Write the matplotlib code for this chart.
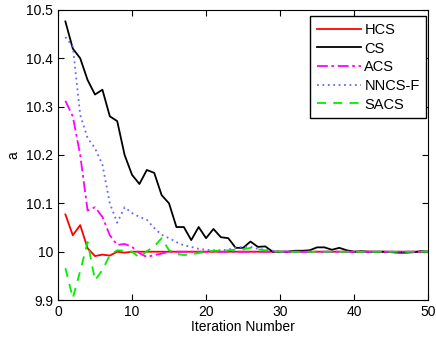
import matplotlib
matplotlib.use("Agg")
import matplotlib.pyplot as plt
import numpy as np

plt.rcParams['font.family'] = ['Liberation Sans', 'DejaVu Sans']

iterations = list(range(1, 51))

hcs = [10.077, 10.034, 10.055, 10.007, 9.991, 9.994, 9.992, 10.0, 9.998, 10.0] + [10.0] * 40

cs = [10.476, 10.42, 10.40, 10.355, 10.325, 10.335, 10.28, 10.27, 10.20, 10.159,
      10.14, 10.169, 10.163, 10.117, 10.10, 10.051, 10.051, 10.024, 10.051, 10.028,
      10.047, 10.03, 10.028, 10.008, 10.008, 10.021, 10.010, 10.011, 10.0, 10.0,
      10.0, 10.002, 10.002, 10.003, 10.009, 10.009, 10.004, 10.008, 10.003, 10.0,
      10.001, 10.0, 10.0, 10.0, 9.999, 9.998, 9.998, 9.999, 10.001, 10.0]

acs = [10.312, 10.28, 10.20, 10.085, 10.092, 10.072, 10.034, 10.014, 10.016, 10.01,
       9.997, 9.989, 9.993, 9.996, 10.0] + [10.0] * 35

nncs_f = [10.444, 10.424, 10.283, 10.235, 10.214, 10.18, 10.10, 10.06, 10.092, 10.08,
          10.072, 10.066, 10.049, 10.035, 10.028, 10.02, 10.013, 10.01, 10.006, 10.004,
          10.003, 10.003, 10.004, 10.009, 10.01, 10.01, 10.006, 10.004, 10.002, 10.001] + [10.0] * 20

sacs = [9.966, 9.904, 9.96, 10.02, 9.941, 9.962, 9.993, 10.003, 10.002, 10.0,
        9.988, 10.001, 10.011, 10.028, 10.003, 9.996, 9.993, 9.995, 9.997, 10.0,
        10.002, 10.002, 10.003, 10.004, 10.005, 10.008, 10.005, 10.003, 10.001, 10.0] + [10.0] * 20

yticks = [9.9, 10.0, 10.1, 10.2, 10.3, 10.4, 10.5]
ytick_labels = ['9.9', '10', '10.1', '10.2', '10.3', '10.4', '10.5']
xticks = [0, 10, 20, 30, 40, 50]

fig = plt.figure(figsize=(4.36, 3.41), dpi=100)
ax = fig.add_axes([0.133, 0.12, 0.849, 0.851])

ax.plot(iterations, hcs, color='#ff0000', lw=1.3, ls='-', label='HCS')
ax.plot(iterations, cs, color='#000000', lw=1.3, ls='-', label='CS')
ax.plot(iterations, acs, color='#ff00ff', lw=1.3, ls=(0, (6, 2, 1.5, 2)), label='ACS')
ax.plot(iterations, nncs_f, color='#6666ff', lw=1.3, ls=(0, (1, 2)), label='NNCS-F')
ax.plot(iterations, sacs, color='#00ee00', lw=1.3, ls=(0, (5, 4)), label='SACS')

ax.set_xlim(0, 50)
ax.set_ylim(9.9, 10.5)
ax.set_xticks(xticks)
ax.set_yticks(yticks)
ax.set_yticklabels(ytick_labels)
ax.tick_params(direction='in', top=True, right=True, labelsize=10, length=4)
ax.set_xlabel('Iteration Number', fontsize=10, labelpad=1)
ax.set_ylabel('a', fontsize=10, labelpad=4)

leg = ax.legend(loc='upper right', bbox_to_anchor=(0.995, 0.978), fontsize=10.5,
                fancybox=False, framealpha=1, edgecolor='black', handlelength=3.0,
                handletextpad=0.25, labelspacing=0.32, borderaxespad=0.0,
                borderpad=0.45)
leg.get_frame().set_linewidth(1.0)

fig.savefig('out.png', dpi=100)
